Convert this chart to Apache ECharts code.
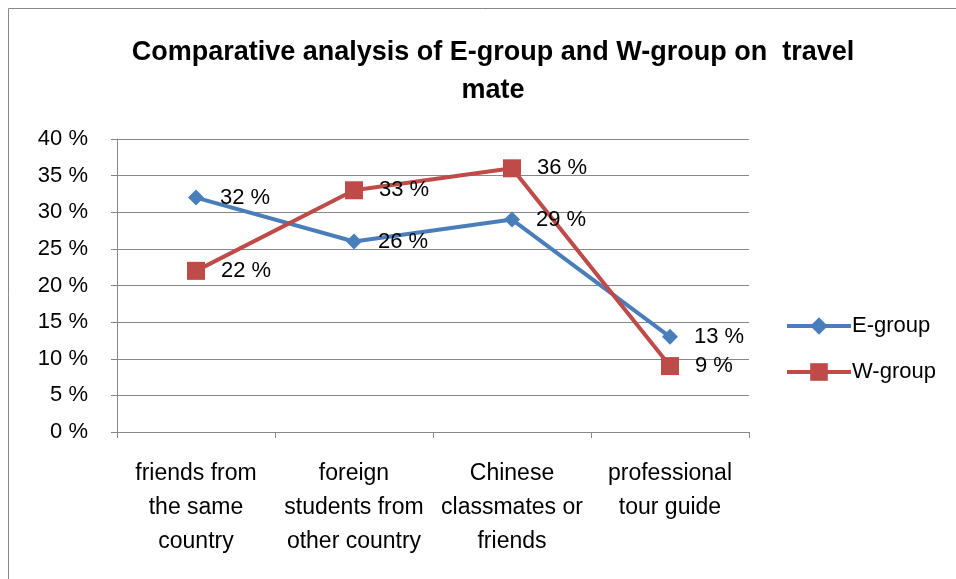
<!DOCTYPE html>
<html lang="en">
<head>
    <meta charset="UTF-8">
    <title>Travel mate</title>
    <script src="https://cdn.jsdelivr.net/npm/echarts@6/dist/echarts.min.js"></script>
    <style>
        body, html {
            margin: 0;
            background: #fff;
        }

        #chart {
            width: 956px;
            height: 579px;
        }
    </style>
</head>
<body>
<div id="chart"></div>
<script>
    const categories = ['friends from\nthe same\ncountry', 'foreign\nstudents from\nother country', 'Chinese\nclassmates or\nfriends', 'professional\ntour guide'];
    const eGroup = [32, 26, 29, 13];
    const wGroup = [22, 33, 36, 9];

    const font = 'Liberation Sans, Arial, sans-serif';
    const chart = echarts.init(document.getElementById('chart'));

    const option = {
        backgroundColor: '#fff',
        animation: false,
        textStyle: {fontFamily: font},
        title: {
            text: 'Comparative analysis of E-group and W-group on  travel\nmate',
            left: 488,
            textAlign: 'center',
            top: 29,
            textStyle: {fontSize: 27, fontWeight: 'bold', color: '#000', lineHeight: 38, fontFamily: font}
        },
        graphic: [{
            type: 'rect',
            shape: {x: 8.5, y: 8.5, width: 960, height: 600},
            style: {fill: 'none', stroke: '#888', lineWidth: 1}
        }],
        legend: {
            orient: 'vertical',
            left: 780,
            top: 310,
            itemGap: 24,
            itemWidth: 64,
            itemHeight: 22,
            lineStyle: {width: 4},
            textStyle: {fontSize: 22, color: '#000', fontFamily: font, padding: [0, 0, 0, -4]},
            data: ['E-group', 'W-group']
        },
        grid: {left: 117, right: 207, top: 139, bottom: 147},
        xAxis: {
            type: 'category',
            data: categories,
            boundaryGap: true,
            axisLine: {lineStyle: {color: '#888'}},
            axisTick: {show: true, length: 6, lineStyle: {color: '#888'}},
            axisLabel: {fontSize: 23, color: '#000', lineHeight: 34, margin: 25, interval: 0, fontFamily: font}
        },
        yAxis: {
            type: 'value',
            min: 0,
            max: 40,
            interval: 5,
            axisLine: {show: true, lineStyle: {color: '#888'}},
            axisTick: {show: true, length: 6, lineStyle: {color: '#888'}},
            splitLine: {lineStyle: {color: '#888'}},
            axisLabel: {formatter: '{value} %', fontSize: 22, color: '#000', margin: 29, fontFamily: font}
        },
        series: [
            {
                name: 'E-group',
                type: 'line',
                data: eGroup,
                symbol: 'diamond',
                symbolSize: 16,
                lineStyle: {width: 4, color: '#4a7ebb'},
                itemStyle: {color: '#4a7ebb'},
                label: {show: true, position: 'right', distance: 16, formatter: '{c} %', fontSize: 22, color: '#000', fontFamily: font}
            },
            {
                name: 'W-group',
                type: 'line',
                data: wGroup,
                symbol: 'rect',
                symbolSize: 18,
                lineStyle: {width: 4, color: '#be4b48'},
                itemStyle: {color: '#be4b48'},
                label: {show: true, position: 'right', distance: 16, formatter: '{c} %', fontSize: 22, color: '#000', fontFamily: font}
            }
        ]
    };

    chart.setOption(option);
</script>
</body>
</html>
